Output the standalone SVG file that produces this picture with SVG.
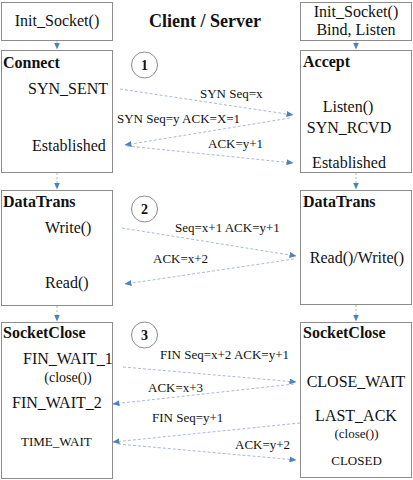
<svg xmlns="http://www.w3.org/2000/svg" width="413" height="480" viewBox="0 0 413 480" font-family="'Liberation Serif', 'Times New Roman', serif">
<defs>
<marker id="ah" markerUnits="userSpaceOnUse" markerWidth="7" markerHeight="6" refX="6.5" refY="3" orient="auto"><path d="M0,0 L7,3 L0,6 z" fill="#4f81bd"/></marker>
<style>
.box{fill:#fff;stroke:#8c8c8c;stroke-width:1}
text{font-family:'Liberation Serif','Times New Roman',serif;fill:#111}
.t16{font-size:16px}
.t13{font-size:13px}
.t14{font-size:14px}
.h{font-size:16px;font-weight:bold}
.c{text-anchor:middle}
.circ{fill:#fff;stroke:#8c8c8c;stroke-width:1}
.num{font-size:14px;font-weight:bold;text-anchor:middle}
.msg{fill:none;stroke:#a9bcd3;stroke-width:1;stroke-dasharray:3,2;marker-end:url(#ah)}
.vl{fill:none;stroke:#a9bcd3;stroke-width:1;stroke-dasharray:2,2;marker-end:url(#ah)}
</style>
</defs>
<rect width="413" height="480" fill="#fff"/>
<text x="205" y="27" class="c" style="font-size:18px;font-weight:bold">Client / Server</text>
<g id="init-client"><rect class="box" x="1.5" y="2.5" width="111" height="38"/><text x="57" y="26" class="t16 c">Init_Socket()</text></g>
<g id="init-server"><rect class="box" x="300.5" y="2.5" width="111" height="38"/><text x="356" y="17" class="t16 c">Init_Socket()</text><text x="356" y="35" class="t16 c">Bind, Listen</text></g>
<g id="connect"><rect class="box" x="1.5" y="50.5" width="111" height="122"/><text x="3" y="68" class="h">Connect</text><text x="28" y="94" class="t16">SYN_SENT</text><text x="32" y="151" class="t16">Established</text></g>
<g id="accept"><rect class="box" x="300.5" y="50.5" width="111" height="122"/><text x="303" y="67" class="h">Accept</text><text x="348" y="112" class="t16 c">Listen()</text><text x="349" y="133" class="t16 c">SYN_RCVD</text><text x="349" y="168" class="t16 c">Established</text></g>
<g id="datatrans-client"><rect class="box" x="1.5" y="190.5" width="111" height="115"/><text x="3" y="207" class="h">DataTrans</text><text x="45" y="233" class="t16">Write()</text><text x="45" y="288" class="t16">Read()</text></g>
<g id="datatrans-server"><rect class="box" x="300.5" y="190.5" width="111" height="114"/><text x="303" y="207" class="h">DataTrans</text><text x="357" y="263" class="t16 c">Read()/Write()</text></g>
<g id="close-client"><rect class="box" x="1.5" y="322.5" width="111" height="156"/><text x="3" y="338" class="h">SocketClose</text><text x="23" y="364" class="t16">FIN_WAIT_1</text><text x="68" y="382" class="t14 c">(close())</text><text x="12" y="408" class="t16">FIN_WAIT_2</text><text x="21" y="446" class="t13">TIME_WAIT</text></g>
<g id="close-server"><rect class="box" x="300.5" y="322.5" width="111" height="155"/><text x="303" y="338" class="h">SocketClose</text><text x="356" y="387" class="t16 c">CLOSE_WAIT</text><text x="356" y="421" class="t16 c">LAST_ACK</text><text x="356.5" y="438" class="t13 c">(close())</text><text x="356.5" y="465" class="t13 c">CLOSED</text></g>
<g id="step1"><circle class="circ" cx="144.5" cy="65" r="13"/><text x="144.5" y="70" class="num">1</text></g>
<g id="step2"><circle class="circ" cx="144.5" cy="209" r="13"/><text x="144.5" y="214" class="num">2</text></g>
<g id="step3"><circle class="circ" cx="144.5" cy="335" r="13"/><text x="144.5" y="340" class="num">3</text></g>
<g id="connectors">
<line class="vl" x1="57" y1="41" x2="57" y2="49"/>
<line class="vl" x1="356" y1="41" x2="356" y2="49"/>
<line class="vl" x1="57" y1="173" x2="57" y2="189"/>
<line class="vl" x1="356" y1="173" x2="356" y2="189"/>
<line class="vl" x1="57" y1="306" x2="57" y2="321"/>
<line class="vl" x1="356" y1="305" x2="356" y2="321"/>
<line class="msg" x1="120" y1="89" x2="293" y2="115"/>
<line class="msg" x1="290" y1="118" x2="125" y2="145"/>
<line class="msg" x1="127" y1="146" x2="293" y2="163"/>
<line class="msg" x1="122" y1="228" x2="296" y2="256"/>
<line class="msg" x1="294" y1="259" x2="125" y2="284"/>
<line class="msg" x1="123" y1="367" x2="296" y2="382"/>
<line class="msg" x1="294" y1="384" x2="113" y2="404"/>
<line class="msg" x1="300" y1="423" x2="113" y2="442"/>
<line class="msg" x1="118" y1="444" x2="296" y2="460"/>
</g>
<g id="labels">
<text x="200" y="98" class="t13">SYN Seq=x</text>
<text x="117" y="123" class="t13">SYN Seq=y ACK=X=1</text>
<text x="208" y="148" class="t13">ACK=y+1</text>
<text x="175" y="232" class="t13">Seq=x+1 ACK=y+1</text>
<text x="153" y="263" class="t13">ACK=x+2</text>
<text x="160" y="359" class="t13">FIN Seq=x+2 ACK=y+1</text>
<text x="148" y="392" class="t13">ACK=x+3</text>
<text x="152" y="422" class="t13">FIN Seq=y+1</text>
<text x="235" y="449" class="t13">ACK=y+2</text>
</g>
</svg>
